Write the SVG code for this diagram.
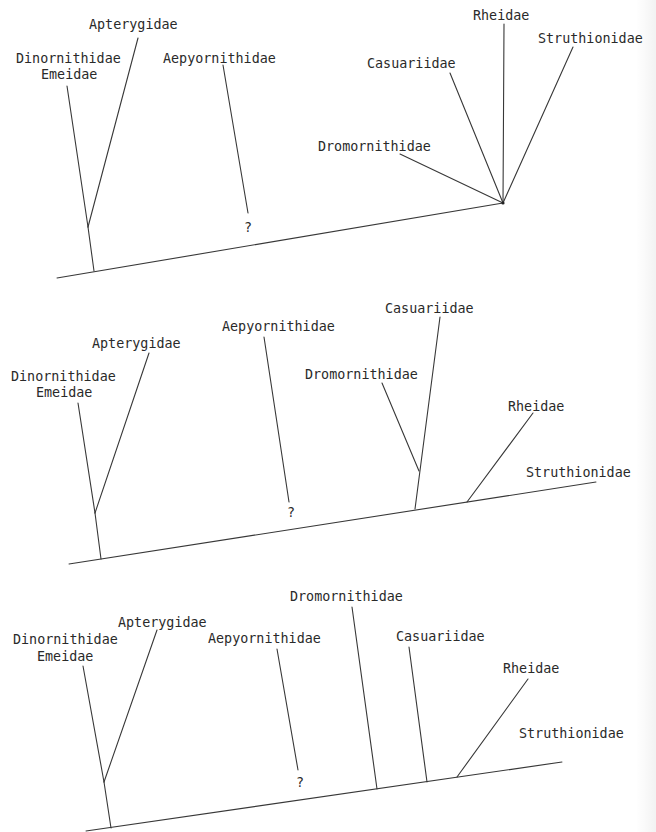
<svg xmlns="http://www.w3.org/2000/svg" width="656" height="832" viewBox="0 0 656 832">
  <style>
    .lbl { font-family: "DejaVu Sans Mono", "Liberation Mono", monospace; font-size: 13.4px; fill: #2a2a2a; }
    .q { text-anchor: middle; }
    .br { stroke: #383838; stroke-width: 1.1; fill: none; stroke-linecap: round; }
  </style>
  <defs>
    <linearGradient id="edgeShade" x1="0" y1="0" x2="1" y2="0">
      <stop offset="0" stop-color="#000" stop-opacity="0"/>
      <stop offset="1" stop-color="#000" stop-opacity="0.05"/>
    </linearGradient>
  </defs>
  <rect width="656" height="832" fill="#fff"/>
  <rect x="636" y="0" width="20" height="832" fill="url(#edgeShade)"/>

  <!-- Tree A: star-shaped polytomy at the right end of the axis -->
  <g id="treeA">
    <g id="connectors-A">
      <line class="br" x1="57" y1="278" x2="503" y2="203"/>
      <line class="br" x1="88" y1="227" x2="94" y2="271"/>
      <line class="br" x1="67" y1="86" x2="88" y2="227"/>
      <line class="br" x1="138" y1="38" x2="88" y2="227"/>
      <line class="br" x1="223" y1="65" x2="248" y2="213"/>
      <line class="br" x1="504" y1="24" x2="503" y2="203"/>
      <line class="br" x1="573" y1="47" x2="503" y2="203"/>
      <line class="br" x1="450" y1="73" x2="503" y2="203"/>
      <line class="br" x1="400" y1="154" x2="503" y2="203"/>
      <circle cx="503" cy="203" r="1.6" fill="#222"/>
    </g>
    <g id="A-dinornithidae"><text class="lbl" x="16" y="63">Dinornithidae</text><text class="lbl" x="41" y="79">Emeidae</text></g>
    <g id="A-apterygidae"><text class="lbl" x="89" y="29">Apterygidae</text></g>
    <g id="A-aepyornithidae"><text class="lbl" x="163" y="63">Aepyornithidae</text><text class="lbl q" x="248" y="232">?</text></g>
    <g id="A-dromornithidae"><text class="lbl" x="318" y="151">Dromornithidae</text></g>
    <g id="A-casuariidae"><text class="lbl" x="367" y="68">Casuariidae</text></g>
    <g id="A-rheidae"><text class="lbl" x="473" y="20">Rheidae</text></g>
    <g id="A-struthionidae"><text class="lbl" x="538" y="43">Struthionidae</text></g>
  </g>

  <!-- Tree B: Casuariidae + Dromornithidae clade, Rheidae and Struthionidae on the axis -->
  <g id="treeB">
    <g id="connectors-B">
      <line class="br" x1="69" y1="564" x2="596" y2="482"/>
      <line class="br" x1="95" y1="513" x2="101" y2="559"/>
      <line class="br" x1="78" y1="403" x2="95" y2="513"/>
      <line class="br" x1="149" y1="353" x2="95" y2="513"/>
      <line class="br" x1="264" y1="337" x2="289" y2="502"/>
      <line class="br" x1="440" y1="317" x2="415" y2="509"/>
      <line class="br" x1="382" y1="383" x2="419" y2="471"/>
      <line class="br" x1="533" y1="413" x2="467" y2="502"/>
    </g>
    <g id="B-dinornithidae"><text class="lbl" x="11" y="381">Dinornithidae</text><text class="lbl" x="36" y="397">Emeidae</text></g>
    <g id="B-apterygidae"><text class="lbl" x="92" y="348">Apterygidae</text></g>
    <g id="B-aepyornithidae"><text class="lbl" x="222" y="331">Aepyornithidae</text><text class="lbl q" x="291" y="517">?</text></g>
    <g id="B-dromornithidae"><text class="lbl" x="305" y="379">Dromornithidae</text></g>
    <g id="B-casuariidae"><text class="lbl" x="385" y="313">Casuariidae</text></g>
    <g id="B-rheidae"><text class="lbl" x="508" y="411">Rheidae</text></g>
    <g id="B-struthionidae"><text class="lbl" x="526" y="477">Struthionidae</text></g>
  </g>

  <!-- Tree C: every ratite family branching separately from the axis -->
  <g id="treeC">
    <g id="connectors-C">
      <line class="br" x1="86" y1="831" x2="562" y2="762"/>
      <line class="br" x1="104" y1="782" x2="111" y2="828"/>
      <line class="br" x1="83" y1="666" x2="104" y2="782"/>
      <line class="br" x1="157" y1="630" x2="104" y2="782"/>
      <line class="br" x1="277" y1="649" x2="298" y2="770"/>
      <line class="br" x1="352" y1="607" x2="377" y2="789"/>
      <line class="br" x1="409" y1="647" x2="427" y2="782"/>
      <line class="br" x1="528" y1="679" x2="457" y2="777"/>
    </g>
    <g id="C-dinornithidae"><text class="lbl" x="13" y="644">Dinornithidae</text><text class="lbl" x="37" y="661">Emeidae</text></g>
    <g id="C-apterygidae"><text class="lbl" x="118" y="627">Apterygidae</text></g>
    <g id="C-aepyornithidae"><text class="lbl" x="208" y="643">Aepyornithidae</text><text class="lbl q" x="300" y="787">?</text></g>
    <g id="C-dromornithidae"><text class="lbl" x="290" y="601">Dromornithidae</text></g>
    <g id="C-casuariidae"><text class="lbl" x="396" y="641">Casuariidae</text></g>
    <g id="C-rheidae"><text class="lbl" x="503" y="673">Rheidae</text></g>
    <g id="C-struthionidae"><text class="lbl" x="519" y="738">Struthionidae</text></g>
  </g>
</svg>
